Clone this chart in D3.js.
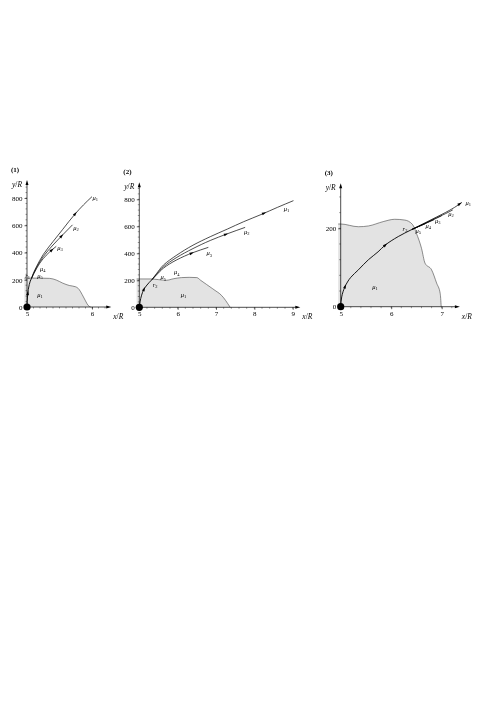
<!DOCTYPE html>
<html>
<head>
<meta charset="utf-8">
<script src="https://cdn.jsdelivr.net/npm/d3@7"></script>
<style>
  body { margin: 0; background: #fff; }
  svg { opacity: 0.999; will-change: transform; }
  text { font-family: "Liberation Serif", "DejaVu Serif", serif; fill: #000; }
</style>
</head>
<body>
<svg id="chart" width="496" height="701"></svg>
<script>
// ---- panel 1 ----
var p1Region = [[5, 212], [5.2, 212], [5.35, 210], [5.45, 198], [5.55, 175], [5.65, 158], [5.75, 148],
    [5.8, 130], [5.85, 90], [5.9, 45], [5.94, 12], [5.98, 0]];
var p1Start = [[5, 0], [5.003, 40], [5.01, 90], [5.02, 130], [5.035, 165], [5.05, 190], [5.07, 211]];
var p1Mu1 = [[5.07, 211], [5.1, 250], [5.15, 300], [5.25, 385], [5.4, 480], [5.55, 570], [5.74, 683], [5.87, 750], [6.0, 810]];
var p1Mu2 = [[5.07, 211], [5.1, 245], [5.15, 292], [5.25, 370], [5.4, 455], [5.55, 530], [5.7, 603]];
var p1Mu3 = [[5.07, 211], [5.1, 240], [5.15, 285], [5.25, 355], [5.35, 405], [5.45, 445]];
var p1Arrows = [["start", 100], ["mu1", 683], ["mu2", 520], ["mu3", 417]];
var p1Labels = [["μ", "1", 6.05, 802], ["μ", "2", 5.754, 582], ["μ", "3", 5.508, 431], ["μ", "4", 5.242, 277],
    ["μ", "5", 5.2, 230], ["r", "1", 5.008, 230], ["μ", "1", 5.2, 88]];
var p1XTicks = [5, 6], p1YTicks = [0, 200, 400, 600, 800];

// ---- panel 2 ----
var p2Region = [[5, 210], [5.3, 210], [5.5, 205], [5.7, 200], [5.9, 212], [6.1, 220], [6.3, 222], [6.5, 220],
    [6.6, 200], [6.75, 170], [6.9, 140], [7.0, 120], [7.1, 100], [7.2, 70], [7.3, 30], [7.37, 0]];
var p2Start = [[5, 0], [5.02, 40], [5.06, 90], [5.12, 133], [5.2, 165], [5.33, 205]];
var p2Mu1 = [[5.33, 205], [5.45, 250], [5.63, 313], [5.98, 387], [6.4, 460], [6.85, 523], [7.3, 580], [7.72, 634], [8.2, 690], [8.6, 740], [9.02, 790]];
var p2Mu2 = [[5.33, 205], [5.45, 245], [5.63, 300], [5.98, 370], [6.4, 435], [6.85, 495], [7.3, 545], [7.76, 592]];
var p2Mu3 = [[5.33, 205], [5.45, 240], [5.63, 290], [5.98, 352], [6.4, 405], [6.8, 444]];
var p2Arrows = [["start", 133], ["mu1", 696], ["mu2", 540], ["mu3", 400]];
var p2Labels = [["μ", "1", 8.84, 728], ["μ", "2", 7.8, 558], ["μ", "3", 6.825, 400], ["μ", "4", 5.975, 259],
    ["μ", "5", 5.626, 222], ["r", "2", 5.41, 165], ["μ", "1", 6.15, 89]];
var p2XTicks = [5, 6, 7, 8, 9], p2YTicks = [0, 200, 400, 600, 800];

// ---- panel 3 ----
var p3Region = [[5, 211], [5.35, 204], [5.55, 206], [5.84, 217], [6.07, 223], [6.27, 221], [6.42, 210],
    [6.5, 187], [6.6, 149], [6.67, 111], [6.8, 94], [6.9, 60], [6.97, 34], [6.99, 0]];
var p3Start = [[5, 0], [5.02, 25], [5.085, 51], [5.2, 75], [5.35, 94], [5.55, 120], [5.74, 140], [5.88, 157],
    [6.14, 179], [6.41, 197]];
var p3Mu1 = [[6.41, 197], [6.67, 214], [6.9, 229], [7.07, 240], [7.25, 253], [7.4, 266]];
var p3Mu2 = [[6.41, 197], [6.67, 213], [6.9, 227], [7.07, 237], [7.22, 247]];
var p3Mu3 = [[6.41, 197], [6.67, 212], [6.85, 223], [7.0, 232]];
var p3Mu4 = [[6.41, 197], [6.6, 208], [6.85, 222]];
var p3Mu5 = [[6.41, 197], [6.55, 205], [6.68, 212]];
var p3Arrows = [["start", 51], ["start", 157], ["mu1", 262]];
var p3Labels = [["μ", "1", 7.527, 264], ["μ", "2", 7.184, 236], ["μ", "3", 6.92, 219], ["μ", "4", 6.735, 206],
    ["μ", "5", 6.537, 194], ["r", "3", 6.273, 199], ["μ", "1", 5.68, 51]];
var p3XTicks = [5, 6, 7], p3YTicks = [0, 200];

var svg = d3.select("#chart");

var panels = [
    {name: "(1)", region: p1Region, lines: {start: p1Start, mu1: p1Mu1, mu2: p1Mu2, mu3: p1Mu3},
        arrows: p1Arrows, labels: p1Labels, xTicks: p1XTicks, yTicks: p1YTicks,
        x: d3.scaleLinear().domain([5, 6]).range([27, 92]), y: d3.scaleLinear().domain([0, 800]).range([307, 198]),
        xMax: 6.25, yMax: 910, xMinor: 0.1, yMinor: 40, regionLeft: 4.96},
    {name: "(2)", region: p2Region, lines: {start: p2Start, mu1: p2Mu1, mu2: p2Mu2, mu3: p2Mu3},
        arrows: p2Arrows, labels: p2Labels, xTicks: p2XTicks, yTicks: p2YTicks,
        x: d3.scaleLinear().domain([5, 9]).range([139.3, 292.7]), y: d3.scaleLinear().domain([0, 800]).range([307.3, 199.3]),
        xMax: 9.12, yMax: 905, xMinor: 0.2, yMinor: 40, regionLeft: 4.93},
    {name: "(3)", region: p3Region, lines: {start: p3Start, mu5: p3Mu5, mu4: p3Mu4, mu3: p3Mu3, mu2: p3Mu2, mu1: p3Mu1},
        arrows: p3Arrows, labels: p3Labels, xTicks: p3XTicks, yTicks: p3YTicks,
        x: d3.scaleLinear().domain([5, 7]).range([340.7, 441.7]), y: d3.scaleLinear().domain([0, 200]).range([306.7, 228.3]),
        xMax: 7.3, yMax: 307, xMinor: 0.2, yMinor: 40, regionLeft: 4.95}
];

panels.forEach(function (p) {
    var g = svg.append("g");
    var x = p.x, y = p.y;

    // shaded region
    var area = d3.area().x(function (d) { return x(d[0]); }).y0(y(0)).y1(function (d) { return y(d[1]); })
        .curve(d3.curveMonotoneX);
    var reg = [[p.regionLeft, p.region[0][1]]].concat(p.region);
    g.append("path").datum(reg).attr("d", area).attr("fill", "#e3e3e3");
    g.append("path").datum(reg)
        .attr("d", d3.line().x(function (d) { return x(d[0]); }).y(function (d) { return y(d[1]); }).curve(d3.curveMonotoneX))
        .attr("fill", "none").attr("stroke", "#444").attr("stroke-width", 0.6);

    // axes lines with arrows
    var x0 = x(5), y0 = y(0), xEnd = x(p.xMax), yEnd = y(p.yMax);
    g.append("line").attr("x1", x0).attr("y1", y0).attr("x2", xEnd).attr("y2", y0)
        .attr("stroke", "#000").attr("stroke-width", 0.7);
    g.append("line").attr("x1", x0).attr("y1", y0).attr("x2", x0).attr("y2", yEnd)
        .attr("stroke", "#000").attr("stroke-width", 0.7);
    g.append("path").attr("d", "M" + (xEnd + 3) + "," + y0 + "L" + (xEnd - 2) + "," + (y0 - 1.5) + "L" + (xEnd - 2) + "," + (y0 + 1.5) + "Z");
    g.append("path").attr("d", "M" + x0 + "," + (yEnd - 3) + "L" + (x0 - 1.5) + "," + (yEnd + 2) + "L" + (x0 + 1.5) + "," + (yEnd + 2) + "Z");

    // minor ticks
    var xm = d3.range(5, p.xMax - 0.05, p.xMinor), ym = d3.range(0, p.yMax - 10, p.yMinor);
    g.selectAll(".xm").data(xm).enter().append("line")
        .attr("x1", function (d) { return x(d); }).attr("x2", function (d) { return x(d); })
        .attr("y1", y0).attr("y2", y0 + 1.5).attr("stroke", "#000").attr("stroke-width", 0.4);
    g.selectAll(".ym").data(ym).enter().append("line")
        .attr("y1", function (d) { return y(d); }).attr("y2", function (d) { return y(d); })
        .attr("x1", x0).attr("x2", x0 - 1.5).attr("stroke", "#000").attr("stroke-width", 0.4);

    // major ticks via d3 axes
    var ax = g.append("g").attr("transform", "translate(0," + y0 + ")")
        .call(d3.axisBottom(x).tickValues(p.xTicks).tickFormat(d3.format("d")).tickSize(2.5).tickSizeOuter(0).tickPadding(1.5));
    var ay = g.append("g").attr("transform", "translate(" + x0 + ",0)")
        .call(d3.axisLeft(y).tickValues(p.yTicks).tickFormat(d3.format("d")).tickSize(2.5).tickSizeOuter(0).tickPadding(2));
    [ax, ay].forEach(function (a) {
        a.attr("font-family", null);
        a.select(".domain").remove();
        a.selectAll("line").attr("stroke-width", 0.6);
        a.selectAll("text").style("font-family", "'Liberation Serif', serif").style("font-size", "7px");
    });

    // axis titles
    var xt = g.append("text").attr("x", xEnd + 5).attr("y", y0 + 12).style("font-size", "7.5px");
    xt.append("tspan").style("font-style", "italic").text("x");
    xt.append("tspan").text("/");
    xt.append("tspan").style("font-style", "italic").text("R");
    var yt = g.append("text").attr("x", x0 - 5).attr("y", yEnd + 4).attr("text-anchor", "end").style("font-size", "7.5px");
    yt.append("tspan").style("font-style", "italic").text("y");
    yt.append("tspan").text("/");
    yt.append("tspan").style("font-style", "italic").text("R");
    g.append("text").attr("x", x0 - 16).attr("y", yEnd - 11).style("font-size", "7px").style("font-weight", "bold").text(p.name);

    // trajectories
    var line = d3.line().x(function (d) { return x(d[0]); }).y(function (d) { return y(d[1]); }).curve(d3.curveMonotoneY);
    Object.keys(p.lines).forEach(function (k) {
        g.append("path").datum(p.lines[k]).attr("d", line)
            .attr("fill", "none").attr("stroke", "#000").attr("stroke-width", k === "start" ? 0.9 : 0.7);
    });

    // direction arrows along curves
    p.arrows.forEach(function (a) {
        var pts = p.lines[a[0]], v = a[1], i = 1;
        while (i < pts.length - 1 && pts[i][1] < v) i++;
        var A = pts[i - 1], B = pts[i], t = (v - A[1]) / (B[1] - A[1]);
        var px = x(A[0] + t * (B[0] - A[0])), py = y(v);
        var ang = Math.atan2(y(B[1]) - y(A[1]), x(B[0]) - x(A[0])) * 180 / Math.PI;
        g.append("path").attr("d", "M2.5,0L-1.8,-1.4L-1.8,1.4Z")
            .attr("transform", "translate(" + px + "," + py + ") rotate(" + ang + ")");
    });

    // origin dot
    g.append("circle").attr("cx", x0).attr("cy", y0).attr("r", 3.6).attr("fill", "#000");

    // labels
    p.labels.forEach(function (l) {
        var t = g.append("text").attr("x", x(l[2])).attr("y", y(l[3]) + 2).attr("text-anchor", "middle")
            .style("font-size", "6.5px");
        t.append("tspan").style("font-style", "italic").text(l[0]);
        t.append("tspan").attr("dy", 1.2).style("font-size", "4.5px").text(l[1]);
    });
});
</script>
</body>
</html>
